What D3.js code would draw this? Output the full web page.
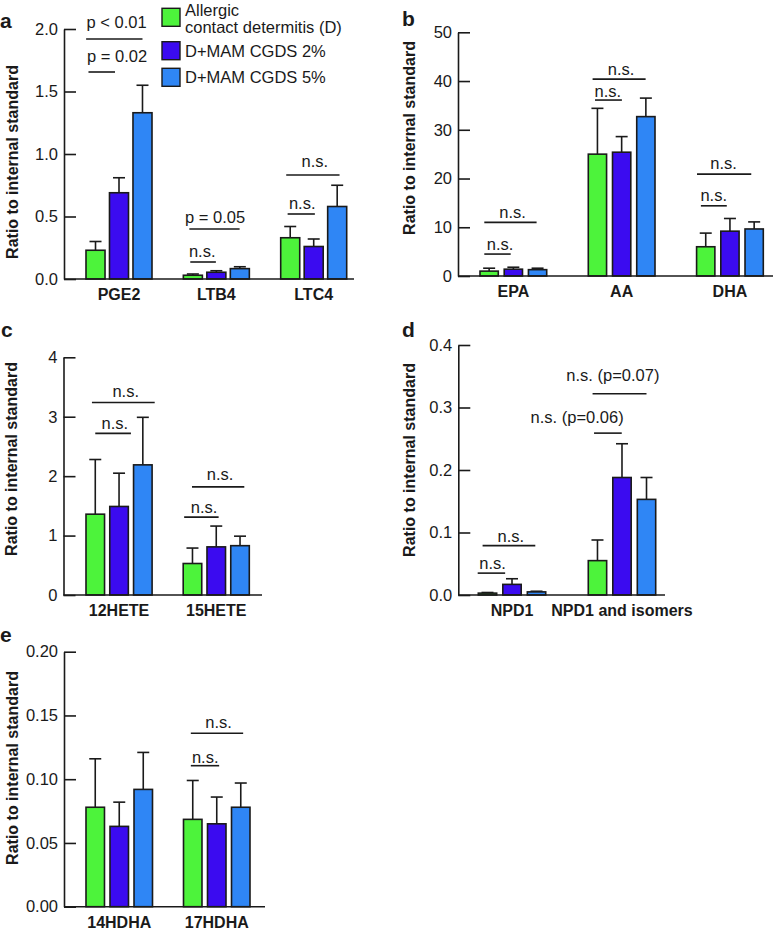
<!DOCTYPE html>
<html>
<head>
<meta charset="utf-8">
<script src="https://cdn.jsdelivr.net/npm/d3@7"></script>
<style>
  body { margin: 0; background: #fff; }
  text { font-family: "Liberation Sans", Arial, sans-serif; fill: #1a1a1a; }
</style>
</head>
<body>
<div id="chart"></div>
<script>
var svgWidth = 775;
var svgHeight = 934;

// groups shown in every panel
var seriesLabels = [["Allergic", "contact determitis (D)"], ["D+MAM CGDS 2%"], ["D+MAM CGDS 5%"]];
var seriesColors = ["#4df33b", "#3b0bf0", "#2f86f5"];

// panel a
var catsA = ["PGE2", "LTB4", "LTC4"];
var meansA = [[0.23, 0.69, 1.33], [0.03, 0.054, 0.083], [0.33, 0.26, 0.58]];
var semA = [[0.07, 0.12, 0.22], [0.01, 0.012, 0.015], [0.09, 0.06, 0.17]];
var ticksA = [0, 0.5, 1.0, 1.5, 2.0];
// brackets: from / to / tx are in bar units (0 = first bar of the group), y / ty in data units
var sigA = [
  { cat: "PGE2", from: -0.4, to: 2.0, y: 1.92, label: "p < 0.01", tx: 0.9, ty: 2.006 },
  { cat: "PGE2", from: -0.3, to: 0.83, y: 1.656, label: "p = 0.02", tx: 0.92, ty: 1.738 },
  { cat: "LTB4", from: -0.15, to: 1.99, y: 0.40, label: "p = 0.05", tx: 0.95, ty: 0.45 },
  { cat: "LTB4", from: -0.11, to: 0.98, y: 0.136, label: "n.s.", tx: 0.4, ty: 0.178 },
  { cat: "LTC4", from: -0.17, to: 2.1, y: 0.832, label: "n.s.", tx: 1.05, ty: 0.898 },
  { cat: "LTC4", from: -0.11, to: 1.05, y: 0.52, label: "n.s.", tx: 0.51, ty: 0.56 }
];

// panel b
var catsB = ["EPA", "AA", "DHA"];
var meansB = [[1.0, 1.4, 1.3], [25.0, 25.4, 32.7], [6.0, 9.2, 9.65]];
var semB = [[0.6, 0.4, 0.3], [9.4, 3.2, 3.8], [2.8, 2.6, 1.45]];
var ticksB = [0, 10, 20, 30, 40, 50];
var sigB = [
  { cat: "EPA", from: -0.2, to: 1.96, y: 11.0, label: "n.s.", tx: 0.97, ty: 11.85 },
  { cat: "EPA", from: -0.2, to: 0.89, y: 4.5, label: "n.s.", tx: 0.45, ty: 5.34 },
  { cat: "AA", from: -0.2, to: 1.99, y: 40.4, label: "n.s.", tx: 0.98, ty: 41.3 },
  { cat: "AA", from: -0.1, to: 1.01, y: 36.1, label: "n.s.", tx: 0.43, ty: 36.8 },
  { cat: "DHA", from: -0.36, to: 1.88, y: 20.9, label: "n.s.", tx: 0.74, ty: 21.9 },
  { cat: "DHA", from: -0.2, to: 0.87, y: 14.4, label: "n.s.", tx: 0.33, ty: 15.4 }
];

// panel c
var catsC = ["12HETE", "15HETE"];
var meansC = [[1.36, 1.49, 2.19], [0.53, 0.81, 0.83]];
var semC = [[0.92, 0.56, 0.80], [0.26, 0.35, 0.16]];
var ticksC = [0, 1, 2, 3, 4];
var sigC = [
  { cat: "12HETE", from: -0.14, to: 2.5, y: 3.24, label: "n.s.", tx: 1.28, ty: 3.34 },
  { cat: "12HETE", from: 0, to: 1.5, y: 2.72, label: "n.s.", tx: 0.82, ty: 2.79 },
  { cat: "15HETE", from: -0.02, to: 2.18, y: 1.82, label: "n.s.", tx: 1.16, ty: 1.94 },
  { cat: "15HETE", from: -0.35, to: 1.1, y: 1.31, label: "n.s.", tx: 0.49, ty: 1.375 }
];

// panel d
var catsD = ["NPD1", "NPD1 and isomers"];
var meansD = [[0.003, 0.017, 0.005], [0.055, 0.188, 0.153]];
var semD = [[0.001, 0.009, 0.001], [0.033, 0.054, 0.035]];
var ticksD = [0, 0.1, 0.2, 0.3, 0.4];
var sigD = [
  { cat: "NPD1", from: -0.2, to: 1.95, y: 0.079, label: "n.s.", tx: 0.95, ty: 0.085 },
  { cat: "NPD1", from: -0.4, to: 0.72, y: 0.035, label: "n.s.", tx: 0.21, ty: 0.041 },
  { cat: "NPD1 and isomers", from: -0.2, to: 2.0, y: 0.322, label: "n.s. (p=0.07)", tx: 0.63, ty: 0.342 },
  { cat: "NPD1 and isomers", from: -0.14, to: 0.99, y: 0.259, label: "n.s. (p=0.06)", tx: -0.83, ty: 0.275 }
];

// panel e
var catsE = ["14HDHA", "17HDHA"];
var meansE = [[0.078, 0.063, 0.092], [0.0685, 0.065, 0.078]];
var semE = [[0.038, 0.019, 0.029], [0.0305, 0.021, 0.019]];
var ticksE = [0, 0.05, 0.10, 0.15, 0.20];
var sigE = [
  { cat: "17HDHA", from: -0.08, to: 2.1, y: 0.136, label: "n.s.", tx: 1.08, ty: 0.14 },
  { cat: "17HDHA", from: -0.08, to: 1.1, y: 0.1106, label: "n.s.", tx: 0.52, ty: 0.113 }
];

// layout of each panel on the page
var panels = [
  { letter: "a", cats: catsA, means: meansA, sem: semA, ticks: ticksA, fmt: ".1f", sig: sigA,
    axisX: 64, yTop: 29, yBottom: 279, xEnd: 354, barsFrom: 86, barsTo: 346.7, groupPad: 0.322, barPad: 0.19,
    labelDx: 52, labelY: 162, letterX: 0, letterY: 28 },
  { letter: "b", cats: catsB, means: meansB, sem: semB, ticks: ticksB, fmt: "d", sig: sigB,
    axisX: 458, yTop: 32.3, yBottom: 276, xEnd: 773, barsFrom: 480, barsTo: 763.3, groupPad: 0.384, barPad: 0.245,
    labelDx: 48.5, labelY: 138, letterX: 402, letterY: 26 },
  { letter: "c", cats: catsC, means: meansC, sem: semC, ticks: ticksC, fmt: "d", sig: sigC,
    axisX: 63.5, yTop: 357.3, yBottom: 595, xEnd: 262, barsFrom: 86, barsTo: 249.3, groupPad: 0.32, barPad: 0.22,
    labelDx: 52, labelY: 459, letterX: 1, letterY: 337 },
  { letter: "d", cats: catsD, means: meansD, sem: semD, ticks: ticksD, fmt: ".1f", sig: sigD,
    axisX: 458.3, yTop: 345, yBottom: 595, xEnd: 665, barsFrom: 478.3, barsTo: 655.7, groupPad: 0.387, barPad: 0.25,
    labelDx: 48.5, labelY: 460, letterX: 402, letterY: 337 },
  { letter: "e", cats: catsE, means: meansE, sem: semE, ticks: ticksE, fmt: ".2f", sig: sigE,
    axisX: 64, yTop: 651.7, yBottom: 906.7, xEnd: 265, barsFrom: 86, barsTo: 250, groupPad: 0.318, barPad: 0.23,
    labelDx: 52, labelY: 768, letterX: 0, letterY: 642 }
];

var ink = "#1a1a1a";

var svg = d3.select("#chart")
  .append("svg")
  .attr("width", svgWidth)
  .attr("height", svgHeight)
  .style("background", "#fff");

panels.forEach(drawPanel);
drawLegend();

function drawPanel(p) {
  var g = svg.append("g");

  var y = d3.scaleLinear()
    .domain([0, d3.max(p.ticks)])
    .range([p.yBottom, p.yTop]);

  var x0 = d3.scaleBand()
    .domain(p.cats)
    .range([p.barsFrom, p.barsTo])
    .paddingInner(p.groupPad);

  var x1 = d3.scaleBand()
    .domain(d3.range(seriesColors.length))
    .range([0, x0.bandwidth()])
    .paddingInner(p.barPad);

  // bar units -> pixels, 0 is the centre of the first bar of a group
  function px(cat, pos) {
    return x0(cat) + x1(0) + x1.bandwidth() / 2 + pos * x1.step();
  }

  var rows = [];
  p.cats.forEach(function(c, i) {
    p.means[i].forEach(function(m, j) {
      rows.push({ cat: c, s: j, mean: m, sem: p.sem[i][j] });
    });
  });

  // error whiskers (upper only)
  var err = g.append("g").selectAll("g")
    .data(rows)
    .enter()
    .append("g")
    .attr("stroke", ink)
    .attr("stroke-width", 1.6);
  err.append("line")
    .attr("x1", d => x0(d.cat) + x1(d.s) + x1.bandwidth() / 2)
    .attr("x2", d => x0(d.cat) + x1(d.s) + x1.bandwidth() / 2)
    .attr("y1", d => y(d.mean))
    .attr("y2", d => y(d.mean + d.sem));
  err.append("line")
    .attr("x1", d => x0(d.cat) + x1(d.s) + x1.bandwidth() / 2 - 6)
    .attr("x2", d => x0(d.cat) + x1(d.s) + x1.bandwidth() / 2 + 6)
    .attr("y1", d => y(d.mean + d.sem))
    .attr("y2", d => y(d.mean + d.sem));

  // bars
  g.append("g").selectAll("rect")
    .data(rows)
    .enter()
    .append("rect")
    .attr("x", d => x0(d.cat) + x1(d.s))
    .attr("y", d => y(d.mean))
    .attr("width", x1.bandwidth())
    .attr("height", d => y(0) - y(d.mean))
    .attr("fill", d => seriesColors[d.s])
    .attr("stroke", ink)
    .attr("stroke-width", 1.6);

  // y axis, ticks point into the plot
  var yAxis = g.append("g")
    .attr("transform", `translate(${p.axisX},0)`)
    .call(d3.axisLeft(y)
      .tickValues(p.ticks)
      .tickFormat(d3.format(p.fmt))
      .tickSizeInner(-12)
      .tickSizeOuter(0)
      .tickPadding(6));
  yAxis.attr("font-family", null).attr("font-size", null);
  yAxis.select(".domain").attr("stroke", ink).attr("stroke-width", 1.6);
  yAxis.selectAll(".tick line").attr("stroke", ink).attr("stroke-width", 1.6);
  yAxis.selectAll(".tick text")
    .attr("fill", ink)
    .style("font-size", "16.5px");

  // x axis line
  g.append("line")
    .attr("x1", p.axisX)
    .attr("x2", p.xEnd)
    .attr("y1", y(0))
    .attr("y2", y(0))
    .attr("stroke", ink)
    .attr("stroke-width", 1.6);

  // category labels
  g.append("g").selectAll("text")
    .data(p.cats)
    .enter()
    .append("text")
    .attr("x", d => x0(d) + x0.bandwidth() / 2)
    .attr("y", y(0) + 21)
    .attr("text-anchor", "middle")
    .style("font-size", "16px")
    .style("font-weight", "bold")
    .text(d => d);

  // significance brackets
  var sig = g.append("g").selectAll("g")
    .data(p.sig)
    .enter()
    .append("g");
  sig.append("line")
    .attr("x1", d => px(d.cat, d.from))
    .attr("x2", d => px(d.cat, d.to))
    .attr("y1", d => y(d.y))
    .attr("y2", d => y(d.y))
    .attr("stroke", ink)
    .attr("stroke-width", 1.6);
  sig.append("text")
    .attr("x", d => px(d.cat, d.tx))
    .attr("y", d => y(d.ty))
    .attr("text-anchor", "middle")
    .style("font-size", "16.5px")
    .text(d => d.label);

  // y axis title
  g.append("text")
    .attr("transform", `translate(${p.axisX - p.labelDx}, ${p.labelY}) rotate(-90)`)
    .attr("dy", "0.35em")
    .attr("text-anchor", "middle")
    .style("font-size", "16px")
    .style("font-weight", "bold")
    .text("Ratio to internal standard");

  // panel letter
  g.append("text")
    .attr("x", p.letterX)
    .attr("y", p.letterY)
    .style("font-size", "21px")
    .style("font-weight", "bold")
    .text(p.letter);
}

function drawLegend() {
  var legendTops = [8.3, 41.7, 68.3];
  var lg = svg.append("g");
  var item = lg.selectAll("g")
    .data(seriesLabels)
    .enter()
    .append("g")
    .attr("transform", (d, i) => `translate(162, ${legendTops[i]})`);
  item.append("rect")
    .attr("width", 18)
    .attr("height", 18)
    .attr("fill", (d, i) => seriesColors[i])
    .attr("stroke", ink)
    .attr("stroke-width", 1.4);
  item.each(function(lines) {
    var t = d3.select(this);
    lines.forEach(function(line, k) {
      t.append("text")
        .attr("x", 23)
        .attr("y", 15 - (lines.length - 1) * 7.3 + k * 17.3)
        .style("font-size", "16.5px")
        .text(line);
    });
  });
}
</script>
</body>
</html>
